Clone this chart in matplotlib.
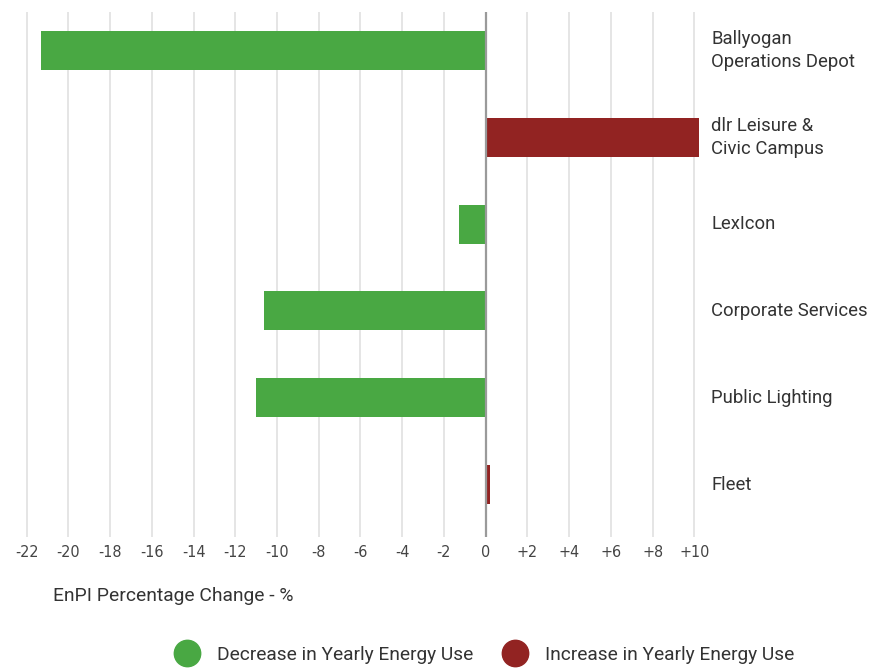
import matplotlib
matplotlib.use('Agg')
import matplotlib.pyplot as plt
from matplotlib.lines import Line2D

# data
sites = ['Ballyogan\nOperations Depot', 'dlr Leisure &\nCivic Campus', 'LexIcon',
         'Corporate Services', 'Public Lighting', 'Fleet']
change = [-21.3, 10.2, -1.3, -10.6, -11.0, 0.2]
ticks = [-22, -20, -18, -16, -14, -12, -10, -8, -6, -4, -2, 0, 2, 4, 6, 8, 10]
tick_labels = ['-22', '-20', '-18', '-16', '-14', '-12', '-10', '-8', '-6', '-4',
               '-2', '0', '+2', '+4', '+6', '+8', '+10']

green = '#49a843'
red = '#922322'
txt = '#333333'

plt.rcParams['font.family'] = ['Roboto', 'DejaVu Sans']

fig = plt.figure(figsize=(8.73, 6.69), dpi=100)
ax = fig.add_axes([0.0269, 0.1973, 0.8037 - 0.0269, 0.982 - 0.1973])

cols = [green if v < 0 else red for v in change]
ypos = list(range(len(sites)))
ax.barh(ypos, change, height=0.45, color=cols, zorder=2)

for t in ticks:
    if t == 0:
        ax.axvline(t, color='#9a9a9a', lw=1.6, zorder=3)
    else:
        ax.axvline(t, color='#e0e0e0', lw=1.2, zorder=1)

ax.set_xlim(-22.15, 10.35)
ax.set_ylim(5.605, -0.444)
ax.set_xticks(ticks)
ax.set_xticklabels(tick_labels, family='DejaVu Sans', stretch='condensed',
                   fontsize=11.5, color='#444444')
ax.tick_params(axis='x', length=0, pad=6)
ax.set_yticks([])
for s in ax.spines.values():
    s.set_visible(False)

for y, name in zip(ypos, sites):
    ax.text(10.35 + 0.47, y, name, ha='left', va='center', fontsize=13.3,
            color=txt, linespacing=1.4, clip_on=False)

fig.text(53 / 873, 1 - 596 / 669, 'EnPI Percentage Change - %', ha='left',
         va='center', fontsize=13.9, color=txt)

handles = [Line2D([], [], ls='none', marker='o', markersize=19, color=green),
           Line2D([], [], ls='none', marker='o', markersize=19, color=red)]
fig.legend(handles, ['Decrease in Yearly Energy Use', 'Increase in Yearly Energy Use'],
           loc='center', bbox_to_anchor=(485 / 873, 1 - 655 / 669), ncol=2,
           frameon=False, fontsize=13.8, labelcolor=txt, handletextpad=0.95,
           columnspacing=1.6, handlelength=1.2)

fig.savefig('out.png', dpi=100)
